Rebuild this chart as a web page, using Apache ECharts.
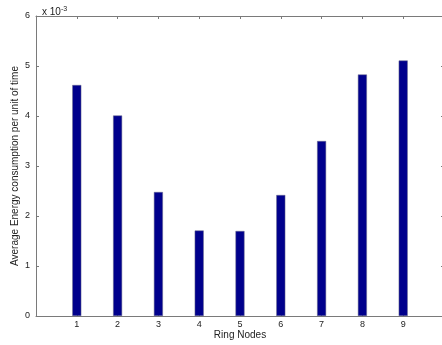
<!DOCTYPE html>
<html>
<head>
<meta charset="utf-8">
<script src="https://cdn.jsdelivr.net/npm/echarts@6/dist/echarts.min.js"></script>
<style>
    html, body { margin: 0; padding: 0; background: #fff; }
    #chart { width: 442px; height: 345px; }
</style>
</head>
<body>
<div id="chart"></div>
<script>
// 資料 (單位 x 10^-3)
const nodes = [1, 2, 3, 4, 5, 6, 7, 8, 9]
const energy = [4.62, 4.01, 2.48, 1.71, 1.70, 2.42, 3.50, 4.83, 5.11]
const yTicks = [0, 1, 2, 3, 4, 5, 6]

const axisGray = '#7a7a7a'
const font = 'Liberation Sans, Arial, sans-serif'

const chart = echarts.init(document.getElementById('chart'))

const hideEnds = v => (v >= 1 && v <= 9) ? String(v) : ''

// 外框用的軸
const frameAxis = {
    type: 'value',
    min: 0,
    interval: 1,
    axisLine: { show: true, onZero: false, lineStyle: { color: axisGray } },
    axisTick: { show: true, inside: true, length: 3, lineStyle: { color: axisGray } },
    axisLabel: { show: false },
    splitLine: { show: false }
}

chart.setOption({
    animation: false,
    backgroundColor: '#fff',
    title: {
        text: 'x 10{sup|-3}',
        left: 37,
        top: 1,
        textStyle: {
            fontFamily: font,
            fontSize: 10,
            fontWeight: 'normal',
            color: '#222',
            rich: { sup: { fontSize: 7, verticalAlign: 'top', padding: [0, 0, 6, 0], color: '#222' } }
        }
    },
    grid: { left: 36, top: 16, width: 408, bottom: 29, outerBoundsMode: 'none', containLabel: false },
    xAxis: [{
        type: 'value',
        min: 0,
        max: 10,
        interval: 1,
        name: 'Ring Nodes',
        nameLocation: 'middle',
        nameGap: 14,
        nameMoveOverlap: false,
        nameTextStyle: { fontFamily: font, fontSize: 10, color: '#222' },
        axisLine: { onZero: false, lineStyle: { color: axisGray } },
        axisTick: { inside: true, length: 3, lineStyle: { color: axisGray } },
        axisLabel: { fontFamily: font, fontSize: 9, color: '#222', margin: 4, formatter: hideEnds },
        splitLine: { show: false }
    }, Object.assign({}, frameAxis, { position: 'top', max: 10 })],
    yAxis: [{
        type: 'value',
        min: yTicks[0],
        max: yTicks[yTicks.length - 1],
        interval: 1,
        name: 'Average Energy consumption per unit of time',
        nameLocation: 'middle',
        nameGap: 16,
        nameMoveOverlap: false,
        nameTextStyle: { fontFamily: font, fontSize: 10, color: '#222' },
        axisLine: { show: true, onZero: false, lineStyle: { color: axisGray } },
        axisTick: { show: true, inside: true, length: 3, lineStyle: { color: axisGray } },
        axisLabel: { fontFamily: font, fontSize: 9, color: '#222', margin: 6 },
        splitLine: { show: false }
    }, Object.assign({}, frameAxis, { position: 'right', max: yTicks[yTicks.length - 1] })],
    series: [{
        type: 'bar',
        data: nodes.map((n, i) => [n, energy[i]]),
        barWidth: 9,
        itemStyle: { color: '#00008c', borderColor: '#6a6a8a', borderWidth: 0.5 }
    }]
})
</script>
</body>
</html>
